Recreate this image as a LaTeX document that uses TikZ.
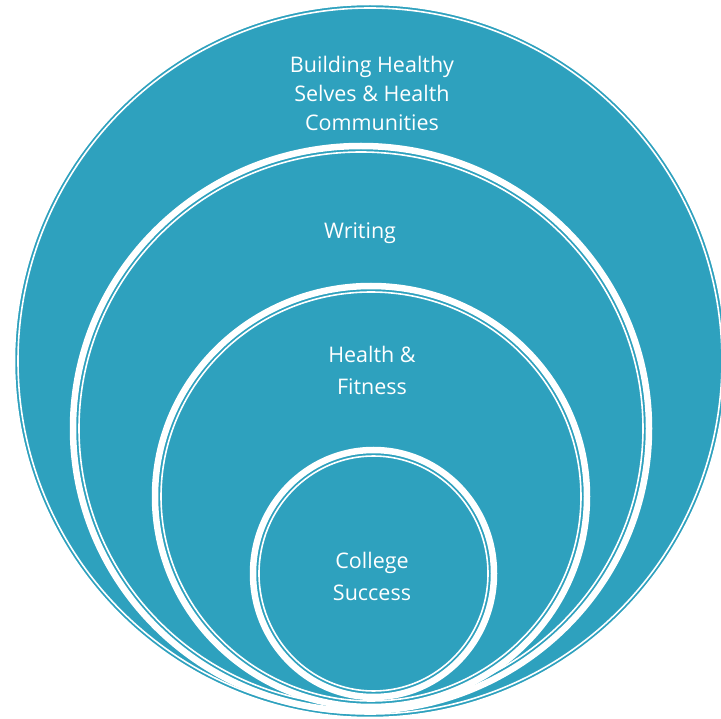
\documentclass[tikz,border=0pt]{standalone}
\usepackage{fontspec}
\setmainfont{Open Sans}
\usepackage{tikz}
\usetikzlibrary{positioning}
\definecolor{ringteal}{RGB}{46,161,190}
\tikzset{ring label/.style={text=white,font=\fontsize{21.5}{32}\selectfont,align=center}}

\begin{document}
\begin{tikzpicture}[x=1pt,y=-1pt]
\useasboundingbox (0,0) rectangle (721,719);

% rings, outside to inside: centre x/y, radii x/y
\foreach \cx/\cy/\rx/\ry in {370/361/358/359, 361/428.5/288/282.5, 371/496.5/216/210.5, 373.5/573.5/120.5/123.5}
{
\filldraw[ringteal, draw=white, line width=6.5pt] (\cx,\cy) ellipse ({\rx} and {\ry});
\draw[white, line width=1.6pt] (\cx,\cy) ellipse ({\rx-6} and {\ry-6});
}

\node[ring label, font=\fontsize{21.5}{29}\selectfont] (outerlabel) at (372,93) {Building Healthy\\Selves \& Health\\Communities};
\node[ring label] (writinglabel) at (360,233) {Writing};
\node[ring label] (fitnesslabel) at (372,370) {Health \&\\Fitness};
\node[ring label] (collegelabel) at (372,576) {College\\Success};

\end{tikzpicture}
\end{document}
